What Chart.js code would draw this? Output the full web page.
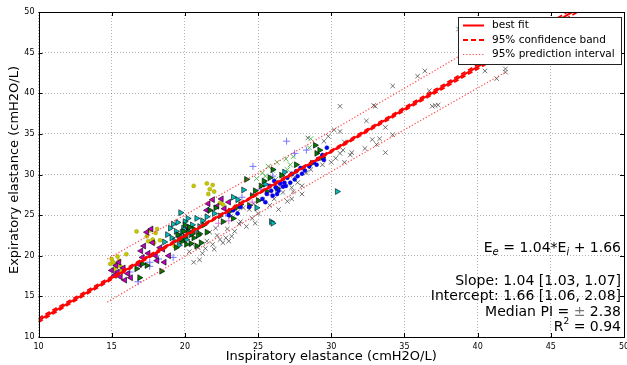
<!DOCTYPE html>
<html>
<head>
<meta charset="utf-8">
<script src="https://cdn.jsdelivr.net/npm/chart.js@4/dist/chart.umd.min.js"></script>
<style>
html,body{margin:0;padding:0;background:#fff;}
#wrap{position:relative;width:627px;height:365px;}
</style>
</head>
<body>
<div id="wrap"><canvas id="c" width="627" height="365"></canvas></div>
<script>
// ---- axis ticks ----
const xTicks = [10, 15, 20, 25, 30, 35, 40, 45, 50];
const yTicks = [10, 15, 20, 25, 30, 35, 40, 45, 50];

// ---- regression lines ----
const fitX = [10, 50];
const fitY = [12.06, 53.66];
const ciX = [10, 15, 20, 25, 30, 35, 40, 45, 50];
const ciUpper = [12.30, 17.44, 22.58, 27.76, 32.99, 38.25, 43.52, 48.80, 54.06];
const ciLower = [11.82, 17.08, 22.34, 27.56, 32.73, 37.87, 43.00, 48.12, 53.26];
const piX = [14.7, 20, 25, 30, 35, 41.9];
const piUpper = [19.60, 25.01, 30.16, 35.36, 40.61, 47.89];
const piLower = [14.30, 19.91, 25.16, 30.36, 35.51, 42.59];

// ---- patient series (x = inspiratory, y = expiratory) ----
const yellowPts = [[15.0,19.6],[15.1,19.2],[15.3,18.9],[15.5,19.4],[15.2,18.4],[15.6,18.7],[14.9,19.0],[15.4,19.9],[15.7,18.2],[16.7,23.0],[17.4,22.4],[17.6,23.1],[17.8,22.0],[18.0,22.8],[18.1,23.3],[17.5,21.8],[17.9,21.6],[18.3,21.9],[16.0,20.2],[20.6,28.6],[21.5,28.9],[21.7,28.2],[21.9,28.7],[21.6,27.6],[22.0,27.9],[22.4,26.5],[22.6,26.3],[19.3,21.2]];
const magentaPts = [[15.0,18.2],[15.2,17.6],[15.4,18.0],[15.6,17.4],[15.8,18.5],[15.3,18.8],[15.9,17.0],[16.1,17.8],[15.5,19.2],[16.3,17.3],[17.0,20.6],[17.2,21.2],[17.5,20.3],[17.8,21.6],[17.4,22.9],[17.7,23.3],[18.0,20.0],[18.3,21.0],[18.1,19.4],[18.6,19.2],[18.9,20.0],[18.5,20.8],[17.1,19.8],[21.6,26.4],[21.9,26.9],[22.2,26.1],[22.5,27.0],[22.7,25.8],[21.5,25.6],[23.0,26.6],[20.2,23.4],[16.9,18.9]];
const greenPts = [[16.7,18.4],[16.9,17.3],[17.1,19.0],[17.4,18.8],[18.4,18.1],[19.5,22.6],[19.8,21.8],[20.0,22.3],[20.2,22.9],[20.4,21.5],[20.6,22.2],[20.8,21.2],[21.0,22.7],[20.3,23.5],[19.9,23.0],[20.6,23.3],[21.3,23.8],[21.7,25.6],[22.1,25.9],[23.1,25.5],[23.5,25.9],[23.8,26.3],[24.2,29.4],[24.8,28.0],[25.2,28.6],[25.6,27.9],[25.4,29.2],[25.0,26.8],[26.3,28.3],[28.7,31.4],[29.0,32.6],[29.2,33.0],[29.4,32.1],[28.9,33.6],[26.0,30.6],[27.6,31.2],[24.6,27.4],[23.3,24.6],[22.6,24.2],[19.7,22.0],[20.1,21.4],[20.5,22.7],[20.9,22.5],[21.1,21.6],[20.0,23.8],[19.4,21.0],[21.5,22.9],[25.8,29.6],[26.6,29.9],[24.4,26.2]];
const cyanPts = [[19.7,25.3],[19.1,22.2],[19.4,23.0],[19.6,22.5],[19.9,23.4],[20.1,22.0],[20.3,23.0],[19.3,21.8],[20.0,24.2],[20.5,23.8],[19.0,23.4],[18.8,22.6],[20.8,24.6],[21.0,23.6],[23.3,27.2],[23.6,26.9],[24.0,28.1],[24.9,25.9],[25.9,24.2],[26.0,24.0],[30.4,27.9],[22.4,24.9],[25.5,28.8],[26.8,30.3],[19.2,23.9],[19.5,24.1],[19.8,22.9],[20.2,24.6],[20.4,22.6],[20.7,23.1],[21.2,24.3],[18.6,21.7],[19.6,21.3],[21.5,24.8],[22.0,25.2]];
const bluePts = [[23.0,25.0],[23.3,25.6],[23.6,25.2],[23.8,26.0],[25.3,27.0],[25.6,27.6],[25.9,28.0],[26.2,28.4],[26.5,28.9],[26.8,29.0],[27.0,29.6],[27.3,30.1],[27.6,30.4],[27.9,30.8],[26.0,27.4],[26.4,28.0],[26.7,28.5],[27.2,29.0],[25.8,28.6],[26.1,29.2],[28.2,30.5],[28.8,31.5],[29.1,31.9],[29.4,32.4],[29.7,33.3],[29.5,31.8],[28.5,31.0],[27.5,29.4],[25.5,26.6],[24.4,26.0],[26.3,27.6],[26.9,28.6],[27.7,29.8],[28.0,30.1],[29.0,31.2]];
const bluePlusPts = [[16.25,18.0],[16.8,16.8],[17.6,18.7],[17.6,19.2],[18.2,19.6],[26.95,34.1],[24.65,31.0],[27.5,32.6],[28.3,33.0],[26.0,29.8],[22.8,25.2],[25.2,28.2],[23.9,27.2],[19.2,19.8]];
const lightGreenPts = [[25.3,30.2],[25.7,31.0],[26.0,30.5],[26.3,31.5],[26.6,30.0],[26.9,31.9],[27.2,31.2],[27.4,32.2],[25.5,29.8],[26.2,29.4],[28.5,33.3],[28.6,34.4],[24.9,29.5],[27.0,30.6]];
const pinkPts = [[26.7,29.0],[26.5,28.6],[23.0,24.3],[22.3,24.0],[24.6,26.6],[25.9,27.5]];
const grayPts = [[20.3,20.5],[20.6,19.2],[20.9,21.0],[21.0,19.5],[21.2,20.3],[21.5,21.8],[21.9,21.4],[22.2,22.5],[22.0,20.8],[21.7,22.9],[22.4,22.0],[22.9,23.3],[23.1,24.8],[23.4,23.0],[23.6,25.4],[23.8,24.2],[24.0,25.9],[24.2,23.6],[24.4,25.7],[24.7,26.4],[25.0,25.2],[25.3,26.9],[24.6,24.6],[23.2,22.4],[22.6,21.6],[20.0,21.8],[20.5,21.4],[21.4,20.9],[22.8,22.2],[23.0,21.8],[22.1,23.4],[24.8,24.0],[23.7,23.9],
  [25.8,26.2],[26.1,27.0],[26.4,25.7],[26.7,27.8],[27.0,26.7],[27.4,27.9],[27.3,28.4],[27.7,29.0],[28.0,28.6],[27.4,29.9],[28.3,30.2],[28.6,30.6],[27.3,27.0],[28.0,27.6],
  [29.5,34.1],[29.8,34.7],[30.2,35.5],[30.6,35.3],[28.4,34.5],[30.0,31.5],[30.3,32.0],[30.6,32.6],[30.9,31.5],[30.8,33.0],[31.3,32.4],[31.4,32.7],[30.9,34.0],[29.4,31.2],[30.6,38.4],
  [32.4,36.6],[32.9,38.5],[33.0,38.4],[32.8,34.3],[33.1,33.7],[33.3,34.4],[33.7,35.8],[33.7,32.7],[34.2,34.9],[34.2,40.9],[35.9,42.1],[36.4,42.75],[36.9,38.4],[37.1,38.5],[37.3,38.55],[36.7,40.3],[32.3,33.2],
  [38.7,47.9],[40.5,42.75],[41.3,41.8],[41.9,42.6],[41.9,43.0]];

const toXY = (xs, ys) => xs.map((x, i) => ({x: x, y: ys[i]}));
const toPts = arr => arr.map(p => ({x: p[0], y: p[1]}));

const RED = '#ff0000';
const PIRED = 'rgba(255,50,50,0.9)';
const lineBase = {type: 'line', pointRadius: 0, fill: false, tension: 0, showLine: true};
const datasets = [
  Object.assign({}, lineBase, {label: 'best fit', data: toXY(fitX, fitY), borderColor: RED, borderWidth: 2}),
  Object.assign({}, lineBase, {label: '95% confidence band', data: toXY(ciX, ciUpper), borderColor: RED, borderWidth: 1.8, borderDash: [5, 3]}),
  Object.assign({}, lineBase, {label: '95% confidence band (lower)', data: toXY(ciX, ciLower), borderColor: RED, borderWidth: 1.8, borderDash: [5, 3]}),
  Object.assign({}, lineBase, {label: '95% prediction interval', data: toXY(piX, piUpper), borderColor: PIRED, borderWidth: 1.2, borderDash: [1.2, 2]}),
  Object.assign({}, lineBase, {label: '95% prediction interval (lower)', data: toXY(piX, piLower), borderColor: PIRED, borderWidth: 1.2, borderDash: [1.2, 2]}),
  {type: 'scatter', label: 'P1', data: toPts(bluePts), pointStyle: 'circle', pointRadius: 2, backgroundColor: '#0000ff', borderColor: '#0000bb', borderWidth: 0.5},
  {type: 'scatter', label: 'P2', data: toPts(greenPts), pointStyle: 'triangle', rotation: 90, pointRadius: 3.4, backgroundColor: '#007a00', borderColor: '#000', borderWidth: 0.6},
  {type: 'scatter', label: 'P3', data: toPts(cyanPts), pointStyle: 'triangle', rotation: 90, pointRadius: 3.4, backgroundColor: '#00bfbf', borderColor: '#000', borderWidth: 0.6},
  {type: 'scatter', label: 'P4', data: toPts(magentaPts), pointStyle: 'triangle', rotation: -90, pointRadius: 3.4, backgroundColor: '#bf00bf', borderColor: '#000', borderWidth: 0.6},
  {type: 'scatter', label: 'P5', data: toPts(yellowPts), pointStyle: 'circle', pointRadius: 2, backgroundColor: '#c8c800', borderColor: '#9a9a00', borderWidth: 0.5},
  {type: 'scatter', label: 'P6', data: toPts(bluePlusPts), pointStyle: 'cross', pointRadius: 3.5, borderColor: '#7777ff', borderWidth: 1},
  {type: 'scatter', label: 'P7', data: toPts(lightGreenPts), pointStyle: 'crossRot', pointRadius: 3.5, borderColor: '#5cb85c', borderWidth: 1},
  {type: 'scatter', label: 'P8', data: toPts(pinkPts), pointStyle: 'cross', pointRadius: 3.5, borderColor: '#dd77dd', borderWidth: 1},
  {type: 'scatter', label: 'P9', data: toPts(grayPts), pointStyle: 'crossRot', pointRadius: 3.2, borderColor: 'rgba(70,70,70,0.75)', borderWidth: 1}
];

const FONT = "'DejaVu Sans', sans-serif";

const decorPlugin = {
  id: 'decor',
  afterDraw(chart) {
    const ctx = chart.ctx;
    const a = chart.chartArea;
    const xs = chart.scales.x, ys = chart.scales.y;
    ctx.save();
    // frame
    ctx.strokeStyle = '#000';
    ctx.lineWidth = 1;
    ctx.setLineDash([]);
    ctx.strokeRect(Math.round(a.left) + 0.5, Math.round(a.top) + 0.5, Math.round(a.right - a.left) - 1, Math.round(a.bottom - a.top));
    // inward ticks on all sides
    ctx.beginPath();
    xTicks.forEach(v => {
      const px = Math.round(xs.getPixelForValue(v)) + 0.5;
      ctx.moveTo(px, a.bottom); ctx.lineTo(px, a.bottom - 4);
      ctx.moveTo(px, a.top); ctx.lineTo(px, a.top + 4);
    });
    yTicks.forEach(v => {
      const py = Math.round(ys.getPixelForValue(v)) + 0.5;
      ctx.moveTo(a.left, py); ctx.lineTo(a.left + 4, py);
      ctx.moveTo(a.right, py); ctx.lineTo(a.right - 4, py);
    });
    ctx.stroke();

    // axis titles
    ctx.fillStyle = '#000';
    ctx.font = '13px ' + FONT;
    ctx.textAlign = 'center';
    ctx.textBaseline = 'middle';
    ctx.fillText('Inspiratory elastance (cmH2O/L)', (a.left + a.right) / 2, 357);
    ctx.save();
    ctx.translate(15, 170);
    ctx.rotate(-Math.PI / 2);
    ctx.fillText('Expiratory elastance (cmH2O/L)', 0, 0);
    ctx.restore();

    // legend
    const lx = 458.5, ly = 17.5, lw = 163, lh = 47;
    ctx.fillStyle = '#fff';
    ctx.fillRect(lx, ly, lw, lh);
    ctx.strokeStyle = '#222';
    ctx.lineWidth = 1;
    ctx.strokeRect(lx, ly, lw, lh);
    const rows = [
      {t: 'best fit', w: 2, dash: [], c: RED, y: 25.5},
      {t: '95% confidence band', w: 2, dash: [5, 3], c: RED, y: 40},
      {t: '95% prediction interval', w: 1.2, dash: [1.2, 2], c: PIRED, y: 54.5}
    ];
    rows.forEach(r => {
      ctx.strokeStyle = r.c; ctx.lineWidth = r.w; ctx.setLineDash(r.dash);
      ctx.beginPath(); ctx.moveTo(463, r.y); ctx.lineTo(484, r.y); ctx.stroke();
      ctx.setLineDash([]);
      ctx.fillStyle = '#000';
      ctx.font = '10.5px ' + FONT;
      ctx.textAlign = 'left';
      ctx.textBaseline = 'middle';
      ctx.fillText(r.t, 492, r.y);
    });

    // annotation text (right aligned)
    const rightX = 621;
    const main = '14px ' + FONT;
    const small = 'italic 10px ' + FONT;
    const sup = '9px ' + FONT;
    const drawRich = (parts, y) => {
      let total = 0;
      parts.forEach(p => { ctx.font = p.f; p.w = ctx.measureText(p.t).width; total += p.w; });
      let x = rightX - total;
      parts.forEach(p => {
        ctx.font = p.f;
        ctx.fillStyle = p.c || '#000';
        ctx.textAlign = 'left';
        ctx.textBaseline = 'middle';
        ctx.fillText(p.t, x, y + (p.dy || 0));
        x += p.w;
      });
    };
    drawRich([{t: 'E', f: main}, {t: 'e', f: small, dy: 4}, {t: ' = 1.04*E', f: main}, {t: 'i', f: small, dy: 4}, {t: ' + 1.66', f: main}], 248);
    drawRich([{t: 'Slope: 1.04 [1.03, 1.07]', f: main}], 281);
    drawRich([{t: 'Intercept: 1.66 [1.06, 2.08]', f: main}], 296.5);
    drawRich([{t: 'Median PI = ', f: main}, {t: '\u00b1', f: main, c: '#777'}, {t: ' 2.38', f: main}], 312);
    drawRich([{t: 'R', f: main}, {t: '2', f: sup, dy: -5}, {t: ' = 0.94', f: main}], 327);
    ctx.restore();
  }
};

new Chart(document.getElementById('c'), {
  data: {datasets: datasets},
  options: {
    responsive: false,
    animation: false,
    devicePixelRatio: 1,
    layout: {padding: {top: 12, right: 3, left: 0, bottom: 0}, autoPadding: false},
    plugins: {legend: {display: false}, tooltip: {enabled: false}},
    scales: {
      x: {
        type: 'linear', min: 10, max: 50,
        afterFit: s => { s.height = 28; s.paddingLeft = 0; s.paddingRight = 0; },
        afterBuildTicks: s => { s.ticks = xTicks.map(v => ({value: v})); },
        ticks: {font: {family: FONT, size: 8}, color: '#000', padding: 5, maxRotation: 0, autoSkip: false},
        grid: {color: 'rgba(0,0,0,0.3)', lineWidth: 1, drawTicks: false},
        border: {display: false, dash: [1, 2]}
      },
      y: {
        type: 'linear', min: 10, max: 50,
        afterFit: s => { s.width = 38.5; s.paddingTop = 0; s.paddingBottom = 0; },
        afterBuildTicks: s => { s.ticks = yTicks.map(v => ({value: v})); },
        ticks: {font: {family: FONT, size: 8}, color: '#000', padding: 4, autoSkip: false},
        grid: {color: 'rgba(0,0,0,0.3)', lineWidth: 1, drawTicks: false},
        border: {display: false, dash: [1, 2]}
      }
    }
  },
  plugins: [decorPlugin]
});
</script>
</body>
</html>
